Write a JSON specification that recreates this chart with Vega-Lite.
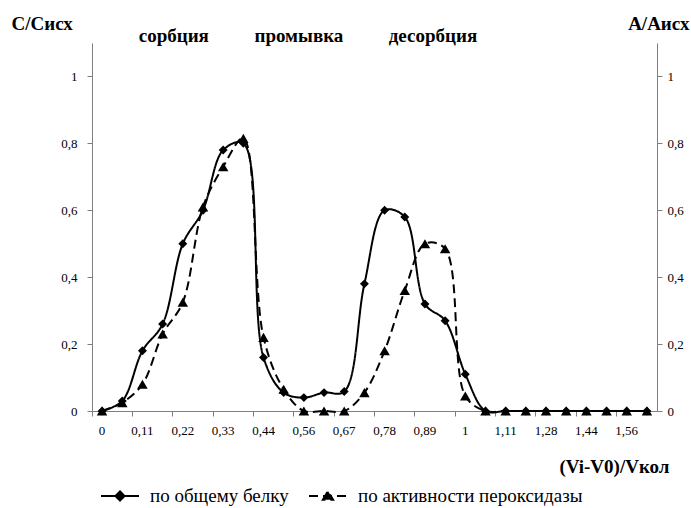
{
  "$schema": "https://vega.github.io/schema/vega-lite/v6.json",
  "width": 565,
  "height": 368,
  "autosize": {"type": "none"},
  "padding": {"left": 92, "top": 43, "right": 34, "bottom": 97},
  "background": "white",
  "config": {
    "font": "Liberation Serif",
    "view": {"stroke": null},
    "axis": {
      "domainColor": "#7f7f7f",
      "tickColor": "#7f7f7f",
      "labelColor": "black",
      "labelFont": "Liberation Serif",
      "labelFontSize": 13,
      "grid": false,
      "tickSize": 5,
      "titleFont": "Liberation Serif",
      "titleFontSize": 19,
      "titleFontWeight": "bold",
      "titleColor": "black"
    }
  },
  "data": {
    "values": [
      {"x": "0", "по общему белку": 0, "по активности пероксидазы": 0},
      {"x": "0,06", "по общему белку": 0.03, "по активности пероксидазы": 0.025},
      {"x": "0,11", "по общему белку": 0.18, "по активности пероксидазы": 0.08},
      {"x": "0,17", "по общему белку": 0.26, "по активности пероксидазы": 0.23},
      {"x": "0,22", "по общему белку": 0.5, "по активности пероксидазы": 0.325},
      {"x": "0,28", "по общему белку": 0.6, "по активности пероксидазы": 0.61},
      {"x": "0,33", "по общему белку": 0.78, "по активности пероксидазы": 0.73},
      {"x": "0,39", "по общему белку": 0.8, "по активности пероксидазы": 0.815},
      {"x": "0,44", "по общему белку": 0.16, "по активности пероксидазы": 0.22},
      {"x": "0,5", "по общему белку": 0.055, "по активности пероксидазы": 0.065},
      {"x": "0,56", "по общему белку": 0.04, "по активности пероксидазы": 0},
      {"x": "0,61", "по общему белку": 0.055, "по активности пероксидазы": 0},
      {"x": "0,67", "по общему белку": 0.058, "по активности пероксидазы": 0},
      {"x": "0,72", "по общему белку": 0.38, "по активности пероксидазы": 0.055},
      {"x": "0,78", "по общему белку": 0.6, "по активности пероксидазы": 0.18},
      {"x": "0,83", "по общему белку": 0.58, "по активности пероксидазы": 0.36},
      {"x": "0,89", "по общему белку": 0.32, "по активности пероксидазы": 0.5},
      {"x": "0,94", "по общему белку": 0.27, "по активности пероксидазы": 0.485},
      {"x": "1", "по общему белку": 0.11, "по активности пероксидазы": 0.045},
      {"x": "1,06", "по общему белку": 0, "по активности пероксидазы": 0},
      {"x": "1,11", "по общему белку": 0, "по активности пероксидазы": 0},
      {"x": "1,19", "по общему белку": 0, "по активности пероксидазы": 0},
      {"x": "1,28", "по общему белку": 0, "по активности пероксидазы": 0},
      {"x": "1,36", "по общему белку": 0, "по активности пероксидазы": 0},
      {"x": "1,44", "по общему белку": 0, "по активности пероксидазы": 0},
      {"x": "1,5", "по общему белку": 0, "по активности пероксидазы": 0},
      {"x": "1,56", "по общему белку": 0, "по активности пероксидазы": 0},
      {"x": "1,62", "по общему белку": 0, "по активности пероксидазы": 0}
    ]
  },
  "transform": [
    {"fold": ["по общему белку", "по активности пероксидазы"], "as": ["series", "v"]}
  ],
  "encoding": {
    "x": {
      "field": "x",
      "type": "ordinal",
      "sort": null,
      "scale": {
        "type": "band",
        "paddingInner": 0,
        "paddingOuter": 0,
        "domain": ["0","0,06","0,11","0,17","0,22","0,28","0,33","0,39","0,44","0,5","0,56","0,61","0,67","0,72","0,78","0,83","0,89","0,94","1","1,06","1,11","1,19","1,28","1,36","1,44","1,5","1,56","1,62"]
      },
      "axis": {
        "values": ["0","0,11","0,22","0,33","0,44","0,56","0,67","0,78","0,89","1","1,11","1,28","1,44","1,56"],
        "bandPosition": 0,
        "labelAngle": 0,
        "labelPadding": 8,
        "title": "(Vi-V0)/Vкол",
        "titleAlign": "right",
        "titleAnchor": null,
        "titleBaseline": "middle",
        "titleX": 577,
        "titleY": 55
      }
    }
  },
  "layer": [
    {
      "mark": {"type": "line", "interpolate": "catmull-rom", "color": "black", "strokeWidth": 2},
      "encoding": {
        "y": {
          "field": "v",
          "type": "quantitative",
          "scale": {"domain": [0, 1.1], "nice": false, "zero": true},
          "axis": {
            "orient": "left",
            "values": [0, 0.2, 0.4, 0.6, 0.8, 1],
            "labelExpr": "replace(toString(datum.value), '.', ',')",
            "labelPadding": 10,
            "title": "С/Сисх",
            "titleAngle": 0,
            "titleAlign": "left",
            "titleBaseline": "middle",
            "titleX": -81,
            "titleY": -20
          }
        },
        "strokeDash": {
          "field": "series",
          "type": "nominal",
          "scale": {"domain": ["по общему белку", "по активности пероксидазы"], "range": [[1, 0], [9, 5]]},
          "legend": {
            "orient": "none",
            "legendX": 8,
            "legendY": 433,
            "direction": "horizontal",
            "title": null,
            "labelFont": "Liberation Serif",
            "labelFontSize": 19,
            "labelColor": "black",
            "labelLimit": 400,
            "symbolSize": 1444,
            "symbolStrokeWidth": 2,
            "symbolStrokeColor": "black",
            "symbolFillColor": "black",
            "columnPadding": 16,
            "labelOffset": 10,
            "encode": {
              "symbols": {
                "update": {
                  "shape": {"signal": "datum.value == 'по общему белку' ? 'M-1,0H1M-0.24,0L0,-0.24L0.24,0L0,0.24Z' : 'M-1,0H1M-0.27,0.2L0,-0.26L0.27,0.2Z'"},
                  "fill": {"value": "black"},
                  "stroke": {"value": "black"},
                  "strokeWidth": {"value": 2},
                  "strokeOpacity": {"value": 1},
                  "opacity": {"value": 1}
                }
              }
            }
          }
        }
      }
    },
    {
      "mark": {"type": "point", "filled": true, "color": "black", "opacity": 1},
      "encoding": {
        "y": {
          "field": "v",
          "type": "quantitative",
          "scale": {"domain": [0, 1.1], "nice": false, "zero": true},
          "axis": {
            "orient": "right",
            "values": [0, 0.2, 0.4, 0.6, 0.8, 1],
            "labelExpr": "replace(toString(datum.value), '.', ',')",
            "labelPadding": 5,
            "title": "А/Аисх",
            "titleAngle": 0,
            "titleAlign": "right",
            "titleBaseline": "middle",
            "titleX": 32,
            "titleY": -20
          }
        },
        "shape": {
          "field": "series",
          "type": "nominal",
          "scale": {"domain": ["по общему белку", "по активности пероксидазы"], "range": ["diamond", "triangle-up"]},
          "legend": null
        },
        "size": {
          "field": "series",
          "type": "nominal",
          "scale": {"domain": ["по общему белку", "по активности пероксидазы"], "range": [80, 110]},
          "legend": null
        }
      }
    },
    {
      "data": {"values": [{}]},
      "mark": {"type": "text", "text": "сорбция", "font": "Liberation Serif", "fontSize": 19, "fontWeight": "bold", "color": "black", "align": "center", "baseline": "middle", "dx": -9},
      "encoding": {
        "x": {"datum": "0,22"},
        "y": {"datum": 1.12, "type": "quantitative", "scale": {"domain": [0, 1.1], "nice": false}, "axis": null}
      }
    },
    {
      "data": {"values": [{}]},
      "mark": {"type": "text", "text": "промывка", "font": "Liberation Serif", "fontSize": 19, "fontWeight": "bold", "color": "black", "align": "center", "baseline": "middle", "dx": -5},
      "encoding": {
        "x": {"datum": "0,56"},
        "y": {"datum": 1.12, "type": "quantitative", "scale": {"domain": [0, 1.1], "nice": false}, "axis": null}
      }
    },
    {
      "data": {"values": [{}]},
      "mark": {"type": "text", "text": "десорбция", "font": "Liberation Serif", "fontSize": 19, "fontWeight": "bold", "color": "black", "align": "center", "baseline": "middle", "dx": 8},
      "encoding": {
        "x": {"datum": "0,89"},
        "y": {"datum": 1.12, "type": "quantitative", "scale": {"domain": [0, 1.1], "nice": false}, "axis": null}
      }
    }
  ],
  "resolve": {
    "axis": {"y": "independent"},
    "legend": {"shape": "independent", "size": "independent", "strokeDash": "independent"}
  }
}
